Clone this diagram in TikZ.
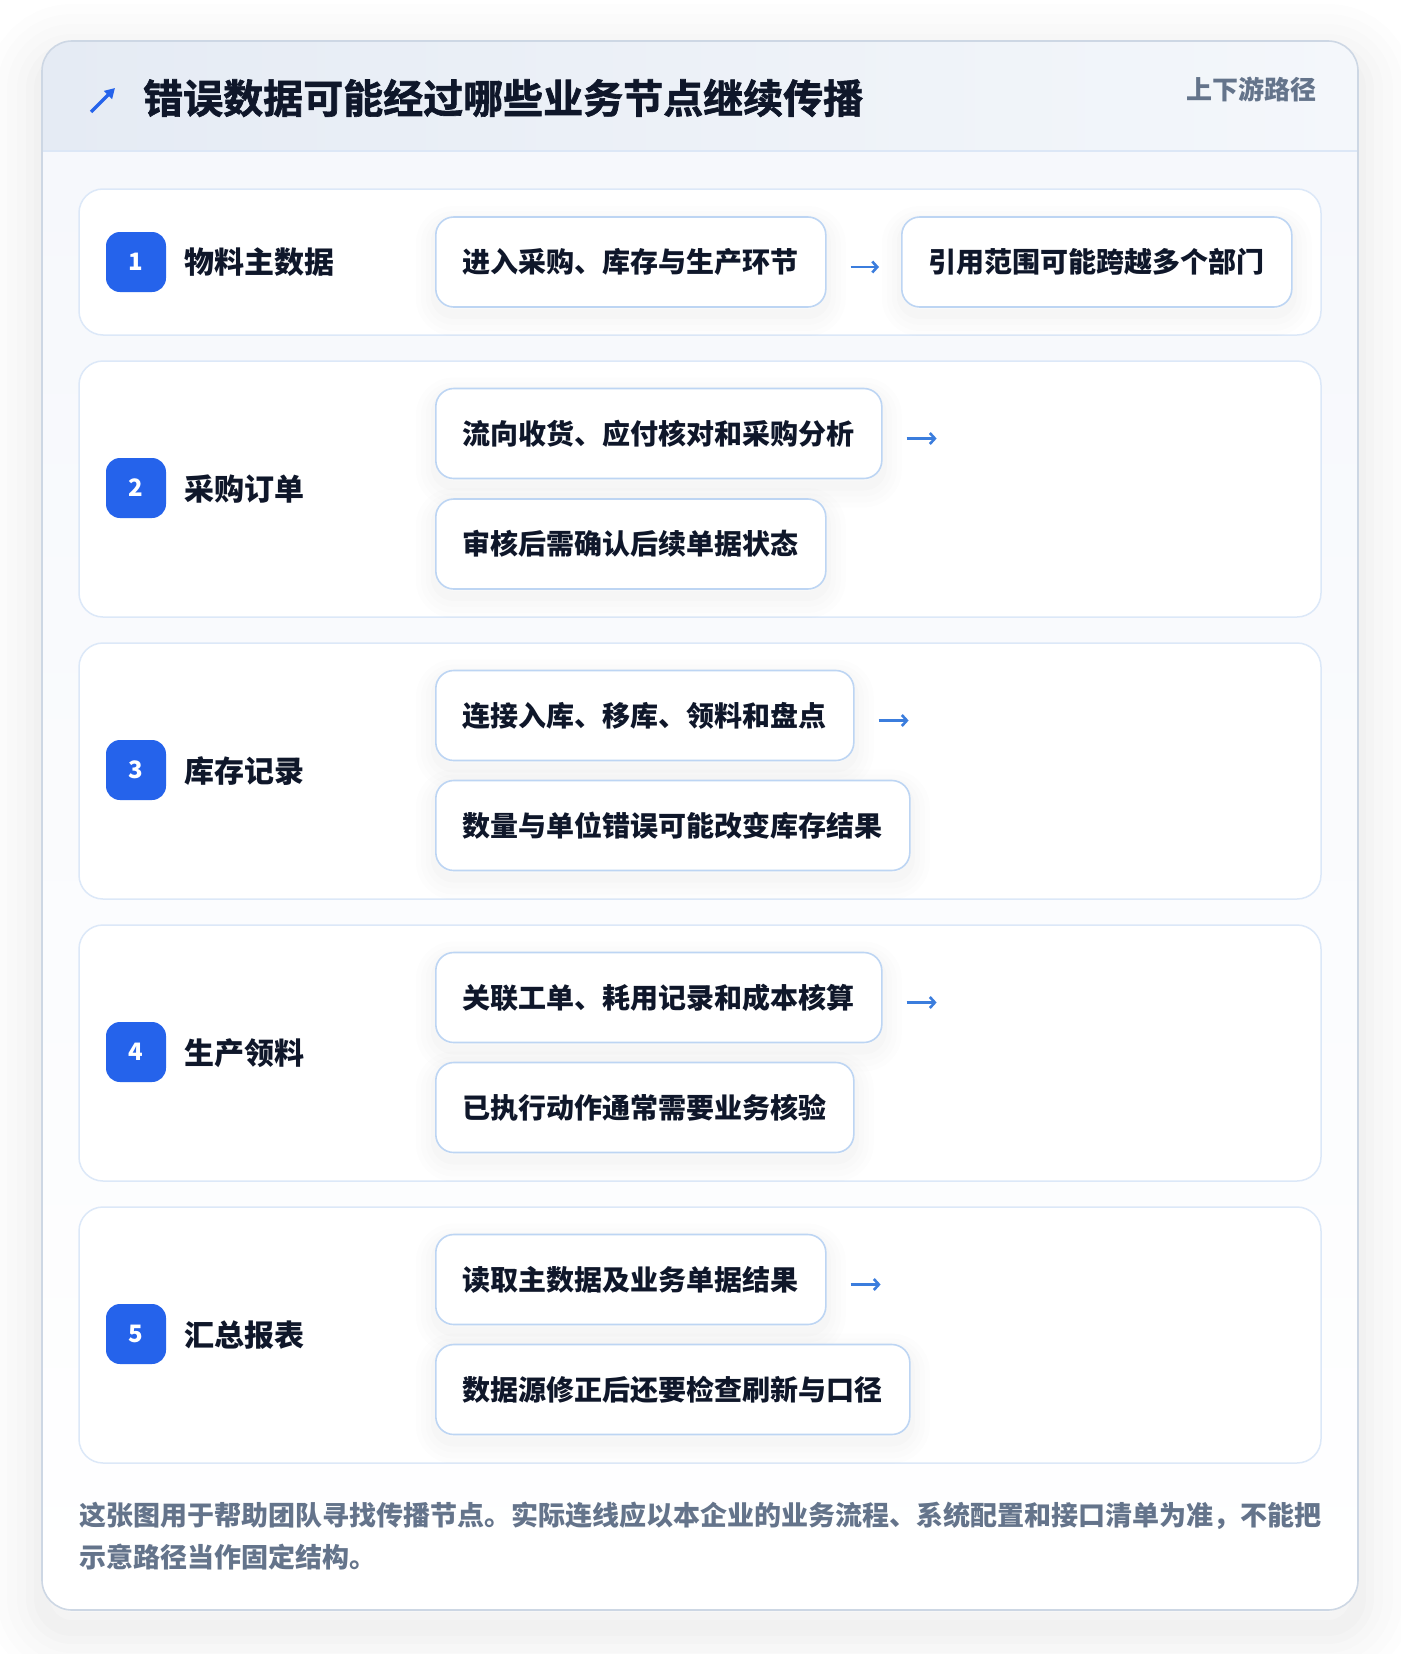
\documentclass[tikz,border=0pt]{standalone}
\usepackage{fontspec}
\setmainfont{Noto Sans CJK SC}
\newfontfamily\heavyfont{Noto Sans CJK SC}[UprightFont=* Bold,FakeBold=1.6]
\usepackage{tikz}
\usetikzlibrary{arrows.meta,positioning}
\definecolor{ink}{HTML}{0F172A}
\definecolor{mute}{HTML}{64748B}
\definecolor{badgeblue}{HTML}{2563EB}
\definecolor{flowblue}{HTML}{3B7DDD}
\definecolor{cardline}{HTML}{CDD7E4}
\definecolor{headl}{HTML}{E5EBF4}
\definecolor{headr}{HTML}{F4F7FB}
\definecolor{headline}{HTML}{DCE7F6}
\definecolor{bodytop}{HTML}{F6F8FC}
\definecolor{rowline}{HTML}{DCE8F8}
\definecolor{boxline}{HTML}{BDD5F3}
\tikzset{font=\bfseries}
\tikzstyle{softshadow}=[preaction={draw=black,opacity=0.006,line width=40pt,transform canvas={yshift=-9pt}},
  preaction={draw=black,opacity=0.007,line width=30pt,transform canvas={yshift=-9pt}},
  preaction={draw=black,opacity=0.008,line width=20pt,transform canvas={yshift=-8pt}},
  preaction={draw=black,opacity=0.01,line width=10pt,transform canvas={yshift=-7pt}}]
\tikzstyle{rowcard}=[draw=rowline,line width=1.5pt,fill=white,rounded corners=24pt]
\tikzstyle{stepbox}=[draw=boxline,line width=1.6pt,fill=white,rounded corners=18pt,softshadow,
  minimum height=90pt,inner xsep=27pt,anchor=west,text=ink,font=\bfseries\fontsize{28}{32}\selectfont]
\tikzstyle{badge}=[fill=badgeblue,rounded corners=14pt,minimum size=60pt,inner sep=0pt,text=white,
  font=\bfseries\fontsize{24}{26}\selectfont]
\tikzstyle{rowlabel}=[anchor=west,text=ink,inner sep=0pt,font=\bfseries\fontsize{30}{34}\selectfont]
\tikzstyle{flow}=[-{Straight Barb[length=5pt,width=11pt]},line width=2.6pt,draw=flowblue]
\begin{document}
\begin{tikzpicture}[x=1pt,y=-1pt]
\useasboundingbox[fill=white] (0,0) rectangle (1400,1654);
% card and its shadow
\foreach \w/\o in {110/0.006,90/0.007,70/0.008,50/0.009,32/0.01,16/0.012}
  \draw[line width=\w pt,draw=black,opacity=\o,rounded corners=30pt,transform canvas={yshift=-18pt}] (42,41) rectangle (1358,1610);
\begin{scope}
\clip[rounded corners=30pt] (42,41) rectangle (1358,1610);
\shade[top color=bodytop,bottom color=white] (42,151) rectangle (1358,1610);
\shade[left color=headl,right color=headr] (42,41) rectangle (1358,151);
\end{scope}
\draw[headline,line width=2pt] (42,151) -- (1358,151);
\draw[cardline,line width=1.6pt,rounded corners=30pt] (42,41) rectangle (1358,1610);
% header
\coordinate (iconA) at (91,112);
\coordinate (iconB) at (115,88);
\draw[badgeblue,line width=3.4pt,-{Triangle[length=10pt,width=11pt]}] (iconA) -- (iconB);
\node[anchor=west,text=ink,inner sep=0pt,font=\heavyfont\fontsize{40}{44}\selectfont] (title) at (143,98) {错误数据可能经过哪些业务节点继续传播};
\node[anchor=east,text=mute,inner sep=0pt,font=\bfseries\fontsize{26}{30}\selectfont] (tag) at (1317,89) {上下游路径};
% row 1
\draw[rowcard] (79,189) rectangle (1321,335);
\node[badge] (B1) at (136,262) {1};
\node[rowlabel] (L1) at (184,262) {物料主数据};
\node[stepbox] (P1) at (435,262) {进入采购、库存与生产环节};
\node[stepbox] (Q1) at (901,262) {引用范围可能跨越多个部门};
\draw[flow] ([xshift=24pt,yshift=-5pt]P1.east) -- ([xshift=-22pt,yshift=-5pt]Q1.west);
% row 2
\draw[rowcard] (79,361) rectangle (1321,617);
\node[badge] (B2) at (136,488) {2};
\node[rowlabel] (L2) at (184,489) {采购订单};
\node[stepbox] (P2) at (435,433.5) {流向收货、应付核对和采购分析};
\node[stepbox] (Q2) at (435,544) {审核后需确认后续单据状态};
\draw[flow] ([xshift=24pt,yshift=-5pt]P2.east) -- ++(30,0);
% row 3
\draw[rowcard] (79,643) rectangle (1321,899);
\node[badge] (B3) at (136,770) {3};
\node[rowlabel] (L3) at (184,771) {库存记录};
\node[stepbox] (P3) at (435,715.5) {连接入库、移库、领料和盘点};
\node[stepbox] (Q3) at (435,825.5) {数量与单位错误可能改变库存结果};
\draw[flow] ([xshift=24pt,yshift=-5pt]P3.east) -- ++(30,0);
% row 4
\draw[rowcard] (79,925) rectangle (1321,1181);
\node[badge] (B4) at (136,1052) {4};
\node[rowlabel] (L4) at (184,1053) {生产领料};
\node[stepbox] (P4) at (435,997.5) {关联工单、耗用记录和成本核算};
\node[stepbox] (Q4) at (435,1107.5) {已执行动作通常需要业务核验};
\draw[flow] ([xshift=24pt,yshift=-5pt]P4.east) -- ++(30,0);
% row 5
\draw[rowcard] (79,1207) rectangle (1321,1463);
\node[badge] (B5) at (136,1334) {5};
\node[rowlabel] (L5) at (184,1335) {汇总报表};
\node[stepbox] (P5) at (435,1279.5) {读取主数据及业务单据结果};
\node[stepbox] (Q5) at (435,1389.5) {数据源修正后还要检查刷新与口径};
\draw[flow] ([xshift=24pt,yshift=-5pt]P5.east) -- ++(30,0);
% footer note
\node[anchor=west,align=left,text=mute,inner sep=0pt,font=\bfseries\fontsize{27}{42}\selectfont] (note) at (79,1536)
  {这张图用于帮助团队寻找传播节点。实际连线应以本企业的业务流程、系统配置和接口清单为准，不能把\\示意路径当作固定结构。};
\end{tikzpicture}
\end{document}
